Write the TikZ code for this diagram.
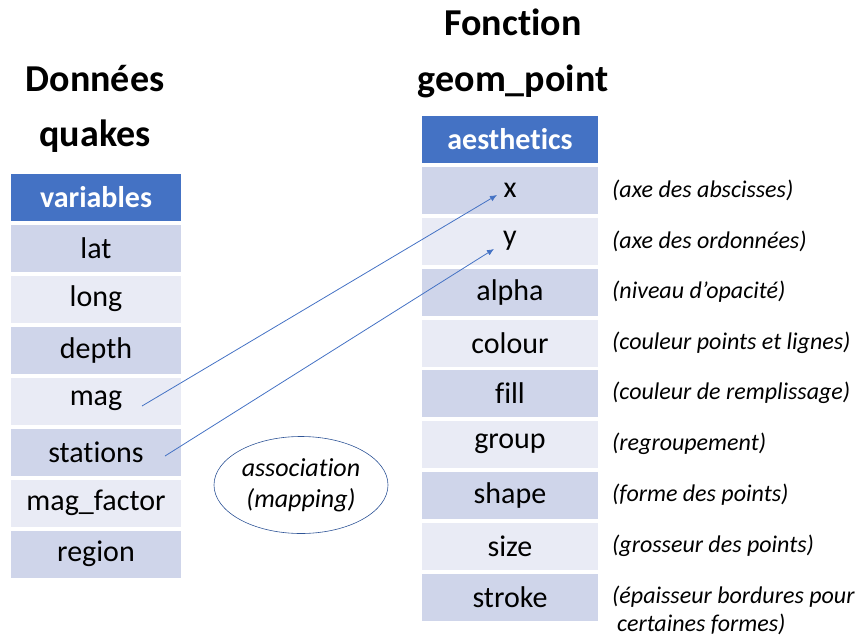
\documentclass[tikz,border=0pt]{standalone}
\usepackage{fontspec}
\setmainfont{Carlito}[Ligatures=NoCommon]
\usetikzlibrary{arrows.meta}
\usetikzlibrary{shapes.geometric}
\definecolor{hdblue}{HTML}{4472C4}
\definecolor{rowdark}{HTML}{CFD5EA}
\definecolor{rowlight}{HTML}{E9EBF5}
\definecolor{ringblue}{HTML}{2F5597}

\begin{document}
\begin{tikzpicture}[x=1pt,y=-1pt,
    title/.style={font=\fontsize{38}{44}\selectfont\bfseries},
    cell/.style={minimum height=47pt,inner sep=0pt,font=\fontsize{30}{36}\selectfont},
    lcell/.style={cell,minimum width=170pt},
    rcell/.style={cell,minimum width=176pt},
    head/.style={fill=hdblue,text=white,font=\fontsize{30}{36}\selectfont\bfseries},
    note/.style={anchor=west,inner sep=0pt,align=left,font=\fontsize{24}{28}\selectfont\itshape},
    link/.style={hdblue,line width=0.8pt,-{Latex[length=7pt,width=6pt]}}]
        \useasboundingbox (0,0) rectangle (867,642);
        % titres
        \node[title] (tdon) at (95,79) {Données};
        \node[title] (tqk) at (95,136) {quakes};
        \node[title] (tfct) at (513,22) {Fonction};
        \node[title] (tgeom) at (513,81) {geom\_point};
        % tableau des variables
        \node[lcell,head] (vars) at (96,197) {variables};
        \foreach \name/\txt/\y/\col in {lat/lat/248/rowdark, long/long/299/rowlight,
            depth/depth/350/rowdark, mag/mag/401/rowlight, stations/stations/452/rowdark,
            magfactor/mag\_factor/503/rowlight, region/region/554/rowdark} {
            \node[lcell,fill=\col] (\name) at (96,\y) {\txt};
        }
        % tableau des aesthetics
        \node[rcell,head] (aes) at (510,139) {aesthetics};
        \foreach \name/\y/\col/\txt in {x/190/rowdark/(axe des abscisses),
            y/241/rowlight/(axe des ordonnées),
            alpha/292/rowdark/(niveau d’opacité),
            colour/343/rowlight/(couleur points et lignes),
            fill/393/rowdark/(couleur de remplissage),
            group/444/rowlight/(regroupement),
            shape/495/rowdark/(forme des points),
            size/546/rowlight/(grosseur des points)} {
            \node[rcell,fill=\col] (\name) at (510,\y) {\name};
            \node[note] (n-\name) at (612,\y) {\txt};
        }
        \node[rcell,fill=rowdark] (stroke) at (510,597) {stroke};
        \node[note,anchor=north west] (n-stroke) at (612,586) {(épaisseur bordures pour\\\hspace{5pt}certaines formes)};
        % association
        \node[draw=ringblue,line width=0.6pt,ellipse,minimum width=174pt,minimum height=97pt,
            align=center,inner sep=0pt,font=\fontsize{26}{31}\selectfont\itshape] (assoc) at (301,485)
            {association\\(mapping)};
        \draw[link] ([xshift=46pt,yshift=-5pt]mag.center) -- ([xshift=-13pt,yshift=-5pt]x.center);
        \draw[link] ([xshift=69pt,yshift=-4pt]stations.center) -- ([xshift=-16pt,yshift=-8pt]y.center);
\end{tikzpicture}
\end{document}
